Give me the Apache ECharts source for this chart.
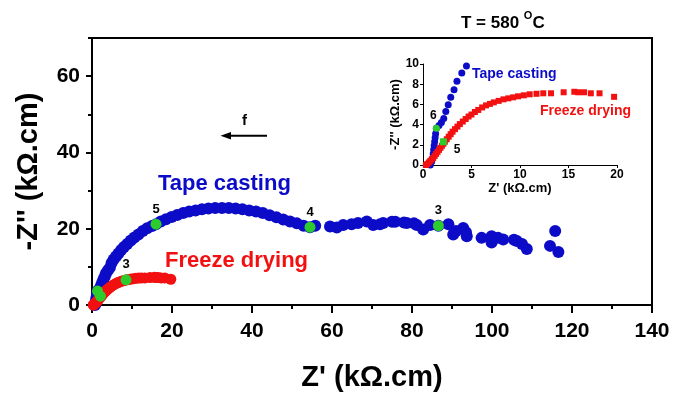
<!DOCTYPE html>
<html lang="en">
<head>
<meta charset="UTF-8" />
<title>Impedance T = 580 C</title>
<script src="https://cdn.jsdelivr.net/npm/echarts@6/dist/echarts.min.js"></script>
<style>
  html, body { margin: 0; padding: 0; background: #fff; }
  #chart { width: 676px; height: 397px; }
</style>
</head>
<body>
<div id="chart"></div>
<script>
// tape casting: Z' and -Z'' (kOhm.cm)
const tapeRe = [0.75, 0.9, 1.0, 1.05, 1.1, 1.15, 1.2, 1.25, 1.3, 1.38, 1.65, 1.9, 2.14, 2.35, 2.6, 2.86, 3.2, 3.5, 4.0, 4.48,
  4.9, 5.4, 6.0, 6.6, 7.3, 8.0, 8.8, 9.7, 10.6, 11.6, 12.7, 13.8, 15.0, 16.0, 17.2, 18.5, 19.9, 21.3, 22.8, 24.3,
  25.9, 27.5, 29.1, 30.8, 32.5, 34.2, 35.9, 37.6, 39.3, 41.0, 42.7, 44.4, 46.1, 47.8, 49.5, 51.2, 52.9, 54.5, 55.8,
  59.5, 61.2, 62.8, 64.9, 66.5, 68.7, 70.3, 72.0, 72.8, 75.0, 75.8, 78.0, 78.7, 80.5, 81.2, 82.8, 84.5, 86.6, 89.1,
  90.3, 91.0, 92.8, 93.5, 93.7, 97.4, 99.9, 99.9, 101.5, 102.8, 105.5, 106.2, 107.5, 108.7, 114.5, 115.8, 116.6];
const tapeIm = [0.0, 0.35, 0.7, 1.1, 1.5, 1.9, 2.3, 2.7, 3.1, 3.64, 3.9, 4.2, 4.6, 5.3, 5.96, 6.7, 7.45, 8.3, 9.1, 9.8,
  11.0, 11.9, 12.7, 13.5, 14.4, 15.2, 16.0, 16.9, 17.7, 18.5, 19.4, 20.1, 20.7, 21.2, 21.9, 22.5, 23.1, 23.6, 24.1, 24.5,
  24.8, 25.1, 25.3, 25.4, 25.4, 25.4, 25.3, 25.1, 24.8, 24.5, 24.1, 23.5, 23.0, 22.4, 21.9, 21.4, 20.8, 20.4, 20.8,
  20.6, 20.3, 21.0, 21.2, 21.5, 21.9, 21.0, 21.2, 21.5, 21.8, 21.8, 21.6, 21.5, 21.4, 21.0, 19.8, 21.0, 20.8, 21.2,
  18.5, 19.4, 20.2, 19.1, 18.0, 17.6, 18.0, 16.4, 17.6, 17.2, 17.1, 16.8, 16.0, 14.7, 15.5, 19.4, 13.9];

// freeze drying
const freezeRe = [0.3, 0.45, 0.6, 0.75, 0.9, 1.05, 1.2, 1.35, 1.5, 1.65, 1.8, 1.95, 2.1, 2.25, 2.45, 2.65, 2.85, 3.05,
  3.3, 3.55, 3.8, 4.1, 4.4, 4.7, 5.0, 5.35, 5.7, 6.1, 6.5, 6.9, 7.3, 7.8, 8.3, 8.8, 9.3, 9.8, 10.4, 11.0, 11.7, 12.4,
  13.2, 14.5, 15.6, 16.0, 16.6, 17.3, 18.2, 19.7];
const freezeIm = [0.0, 0.1, 0.25, 0.4, 0.55, 0.7, 0.9, 1.1, 1.3, 1.5, 1.7, 1.9, 2.1, 2.3, 2.55, 2.8, 3.05, 3.3,
  3.55, 3.8, 4.05, 4.3, 4.55, 4.8, 5.0, 5.25, 5.45, 5.7, 5.9, 6.05, 6.2, 6.35, 6.5, 6.6, 6.7, 6.8, 6.9, 7.0, 7.05, 7.1,
  7.1, 7.2, 7.25, 7.2, 7.2, 7.1, 7.1, 6.75];

// frequency decade points (log f)
const mainDecRe = [1.38, 16.0, 54.5, 86.6, 2.1, 8.5];
const mainDecIm = [3.64, 21.2, 20.4, 20.8, 2.3, 6.6];
const mainDecTxt = ['', '5', '4', '3', '', '3'];
const insetDecRe = [1.38, 2.1];
const insetDecIm = [3.64, 2.3];
const insetDecTxt = ['6', '5'];

const FONT = 'Liberation Sans, Arial, sans-serif';
const BLUE = '#0c0cc8';
const RED = '#f21010';
const GREEN = '#2ccc2c';

function pairs(xs, ys) {
  return xs.map((x, i) => [x, ys[i]]);
}

const chart = echarts.init(document.getElementById('chart'));

const boldTxt = (size, color) => ({ fontFamily: FONT, fontWeight: 'bold', fontSize: size, color: color || '#000' });

const option = {
  animation: false,
  backgroundColor: '#fff',
  title: {
    text: '{a|T = 580 }{s|O}{a|C}',
    left: 456, top: 5,
    textStyle: {
      rich: {
        a: Object.assign(boldTxt(17), { lineHeight: 22, verticalAlign: 'bottom' }),
        s: Object.assign(boldTxt(11), { lineHeight: 22, verticalAlign: 'top' })
      }
    }
  },
  grid: [
    { left: 92, top: 38, width: 560, height: 274.5, show: true, borderColor: '#000', borderWidth: 2, backgroundColor: 'transparent' },
    { left: 423, top: 64, width: 194, height: 101 }
  ],
  xAxis: [
    {
      gridIndex: 0, type: 'value', min: 0, max: 140, interval: 20,
      axisLine: { lineStyle: { color: '#000', width: 2 } },
      axisTick: { length: 8, lineStyle: { color: '#000', width: 2 } },
      minorTick: { show: true, splitNumber: 2, length: 4, lineStyle: { color: '#000', width: 2 } },
      splitLine: { show: false },
      axisLabel: Object.assign(boldTxt(21), { margin: 16 }),
      name: "Z' (kΩ.cm)", nameLocation: 'middle', nameGap: 58,
      nameTextStyle: boldTxt(29)
    },
    {
      gridIndex: 1, type: 'value', min: 0, max: 20, interval: 5,
      axisLine: { lineStyle: { color: '#000', width: 1 } },
      axisTick: { length: 3, lineStyle: { color: '#000', width: 1 } },
      splitLine: { show: false },
      axisLabel: Object.assign(boldTxt(12), { margin: 4 }),
      name: "Z' (kΩ.cm)", nameLocation: 'middle', nameGap: 15,
      nameTextStyle: boldTxt(13)
    }
  ],
  yAxis: [
    {
      gridIndex: 0, type: 'value', position: 'left', min: 0, max: 70, interval: 20,
      axisLine: { lineStyle: { color: '#000', width: 2 } },
      axisTick: { length: 6, customValues: [0, 20, 40, 60], lineStyle: { color: '#000', width: 2 } },
      splitLine: { show: false },
      axisLabel: Object.assign(boldTxt(21), { margin: 12, customValues: [0, 20, 40, 60] }),
      name: "-Z'' (kΩ.cm)", nameLocation: 'middle', nameGap: 49,
      nameTextStyle: boldTxt(29)
    },
    {
      gridIndex: 1, type: 'value', min: 0, max: 10, interval: 2,
      axisLine: { lineStyle: { color: '#000', width: 1 } },
      axisTick: { length: 3, lineStyle: { color: '#000', width: 1 } },
      splitLine: { show: false },
      axisLabel: Object.assign(boldTxt(12), { margin: 4 }),
      name: "-Z'' (kΩ.cm)", nameLocation: 'middle', nameGap: 18,
      nameTextStyle: boldTxt(13)
    },
    {
      // minor ticks for the main y axis
      gridIndex: 0, type: 'value', position: 'left', offset: 0, min: 0, max: 70,
      axisLine: { show: false },
      axisTick: { length: 4, customValues: [10, 30, 50, 70], lineStyle: { color: '#000', width: 2 } },
      axisLabel: { show: false },
      splitLine: { show: false }
    }
  ],
  series: [
    {
      type: 'scatter', xAxisIndex: 0, yAxisIndex: 0,
      data: pairs(tapeRe, tapeIm), symbol: 'circle', symbolSize: 12,
      itemStyle: { color: BLUE, opacity: 1 }
    },
    {
      type: 'scatter', xAxisIndex: 0, yAxisIndex: 0,
      data: pairs(freezeRe, freezeIm), symbol: 'circle', symbolSize: 11,
      itemStyle: { color: RED, opacity: 1 }
    },
    {
      type: 'scatter', xAxisIndex: 0, yAxisIndex: 0,
      data: pairs(mainDecRe, mainDecIm), symbol: 'circle', symbolSize: 11,
      itemStyle: { color: GREEN, opacity: 1 },
      label: {
        show: true, position: 'top', distance: 3,
        formatter: p => mainDecTxt[p.dataIndex],
        ...boldTxt(13)
      }
    },
    {
      type: 'scatter', xAxisIndex: 1, yAxisIndex: 1,
      data: pairs(tapeRe, tapeIm), symbol: 'circle', symbolSize: 7,
      itemStyle: { color: BLUE, opacity: 1 }
    },
    {
      type: 'scatter', xAxisIndex: 1, yAxisIndex: 1,
      data: pairs(freezeRe, freezeIm), symbol: 'rect', symbolSize: 6,
      itemStyle: { color: RED, opacity: 1 }
    },
    {
      type: 'scatter', xAxisIndex: 1, yAxisIndex: 1,
      data: pairs(insetDecRe, insetDecIm).map((d, i) => ({
        value: d,
        symbol: i === 0 ? 'circle' : 'rect',
        label: i === 0 ? { position: 'top', offset: [-3, 2] } : { position: 'right', offset: [2, 8] }
      })),
      symbolSize: 7,
      itemStyle: { color: GREEN, opacity: 1 },
      label: {
        show: true,
        formatter: p => insetDecTxt[p.dataIndex],
        ...boldTxt(12)
      }
    }
  ],
  graphic: [
    { type: 'text', left: 158, top: 173, style: { text: 'Tape casting', fill: BLUE, font: 'bold 22px ' + FONT } },
    { type: 'text', left: 165, top: 250, style: { text: 'Freeze drying', fill: RED, font: 'bold 22px ' + FONT } },
    { type: 'text', left: 472, top: 67, style: { text: 'Tape casting', fill: BLUE, font: 'bold 14px ' + FONT } },
    { type: 'text', left: 540, top: 104, style: { text: 'Freeze drying', fill: RED, font: 'bold 14px ' + FONT } },
    { type: 'text', left: 242, top: 113, style: { text: 'f', fill: '#000', font: 'bold 15px ' + FONT } },
    { type: 'line', shape: { x1: 228, y1: 135.7, x2: 267, y2: 135.7 }, style: { stroke: '#000', lineWidth: 2 } },
    { type: 'polygon', shape: { points: [[220.5, 135.7], [231, 132], [231, 139.4]] }, style: { fill: '#000' } }
  ]
};

chart.setOption(option);
</script>
</body>
</html>
